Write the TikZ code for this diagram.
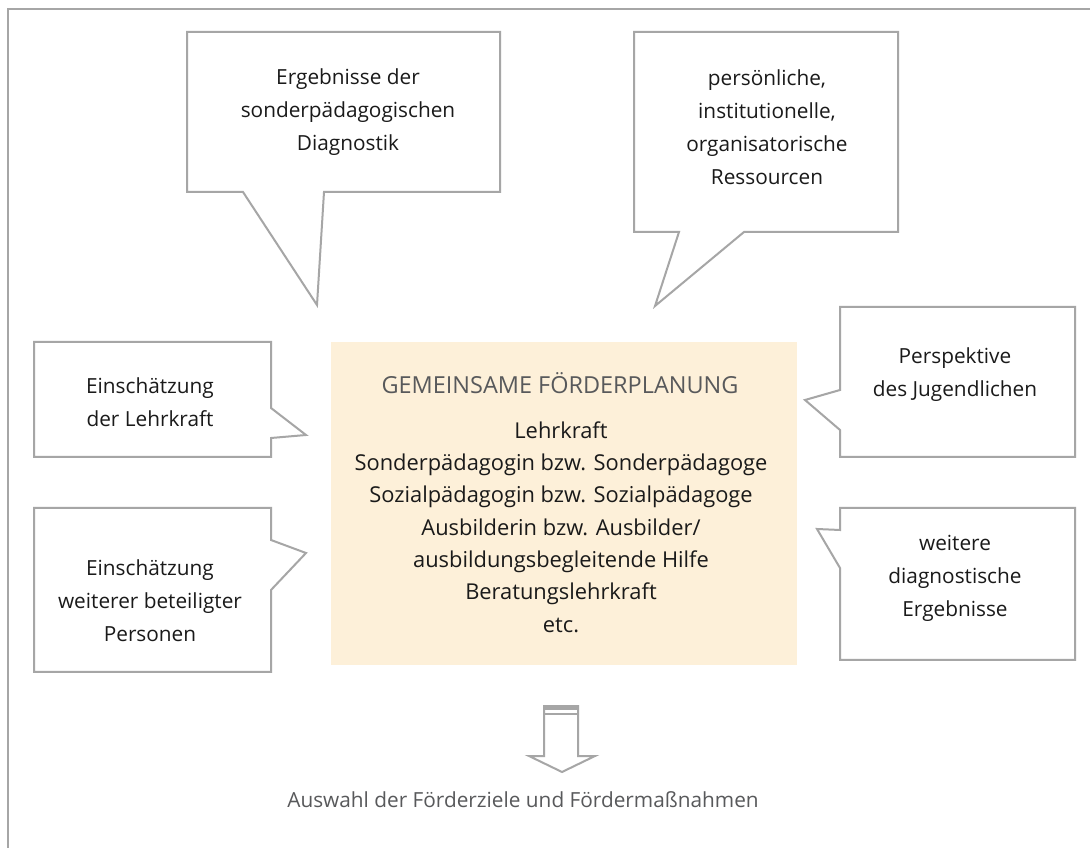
\documentclass[tikz,border=0pt]{standalone}
\usepackage{fontspec}
\setmainfont{Open Sans}
\definecolor{linegray}{HTML}{A6A6A6}
\definecolor{cream}{HTML}{FDF0D9}
\definecolor{titlegray}{HTML}{58595B}
\definecolor{txt}{HTML}{1A1A1A}
\tikzset{
  bubble/.style={draw=linegray, line width=1.5pt, fill=white, line join=miter},
  btext/.style={align=center, text=txt, font=\fontsize{15.6}{24.8}\selectfont, inner sep=0pt},
  ctext/.style={align=center, text=txt, font=\fontsize{16.4}{24.2}\selectfont, inner sep=0pt},
}
\begin{document}
\begin{tikzpicture}[x=0.75pt,y=-0.75pt]
\useasboundingbox (0,0) rectangle (1090,848);
\fill[white] (0,0) rectangle (1090,848);
% frame (left and top)
\draw[linegray, line width=1.5pt] (8,848) -- (8,9) -- (1090,9);

% centre box
\fill[cream] (331,342) rectangle (797,665);
\node[font=\fontsize{17.6}{20}\selectfont, text=titlegray, inner sep=0pt] (title) at (560,383) {GEMEINSAME FÖRDERPLANUNG};
\node[ctext] (members) at (561,527) {Lehrkraft\\Sonderpädagogin bzw. Sonderpädagoge\\Sozialpädagogin bzw. Sozialpädagoge\\Ausbilderin bzw. Ausbilder/\\ausbildungsbegleitende Hilfe\\Beratungslehrkraft\\etc.};

% top-left callout
\draw[bubble] (187,32) -- (500,32) -- (500,192) -- (324,192) -- (317,305) -- (243,192) -- (187,192) -- cycle;
\node[btext] (diag) at (348,112) {Ergebnisse der\\sonderpädagogischen\\Diagnostik};

% top-right callout
\draw[bubble] (634,32) -- (898,32) -- (898,232) -- (744,232) -- (655,306) -- (679,232) -- (634,232) -- cycle;
\node[btext] (ress) at (767,127) {persönliche,\\institutionelle,\\organisatorische\\Ressourcen};

% left upper callout
\draw[bubble] (34,342) -- (271,342) -- (271,408) -- (306,435) -- (271,438) -- (271,457) -- (34,457) -- cycle;
\node[btext] (lehr) at (150,402) {Einschätzung\\der Lehrkraft};

% left lower callout
\draw[bubble] (34,508) -- (271,508) -- (271,540) -- (306,553) -- (271,590) -- (271,672) -- (34,672) -- cycle;
\node[btext] (pers) at (150,601) {Einschätzung\\weiterer beteiligter\\Personen};

% right upper callout
\draw[bubble] (840,307) -- (1075,307) -- (1075,457) -- (840,457) -- (840,430) -- (805,400) -- (840,390) -- cycle;
\node[btext] (jug) at (955,375) {Perspektive\\des Jugendlichen};

% right lower callout
\draw[bubble] (840,508) -- (1075,508) -- (1075,660) -- (840,660) -- (840,568) -- (817,529) -- (840,530) -- cycle;
\node[btext] (weit) at (955,578) {weitere\\diagnostische\\Ergebnisse};

% down arrow
\draw[linegray, line width=1.5pt, fill=white, line join=miter] (544,706) -- (544,756) -- (529,756) -- (562,772) -- (595,756) -- (578,756) -- (578,706) -- cycle;
\fill[linegray] (544,706) rectangle (578,710);
\draw[linegray, line width=1.5pt] (544,714) -- (578,714);
\coordinate (arrowtip) at (562,772);

\node[font=\fontsize{15.6}{18}\selectfont, text=titlegray, inner sep=0pt] (result) at (523,800) {Auswahl der Förderziele und Fördermaßnahmen};
\end{tikzpicture}
\end{document}
